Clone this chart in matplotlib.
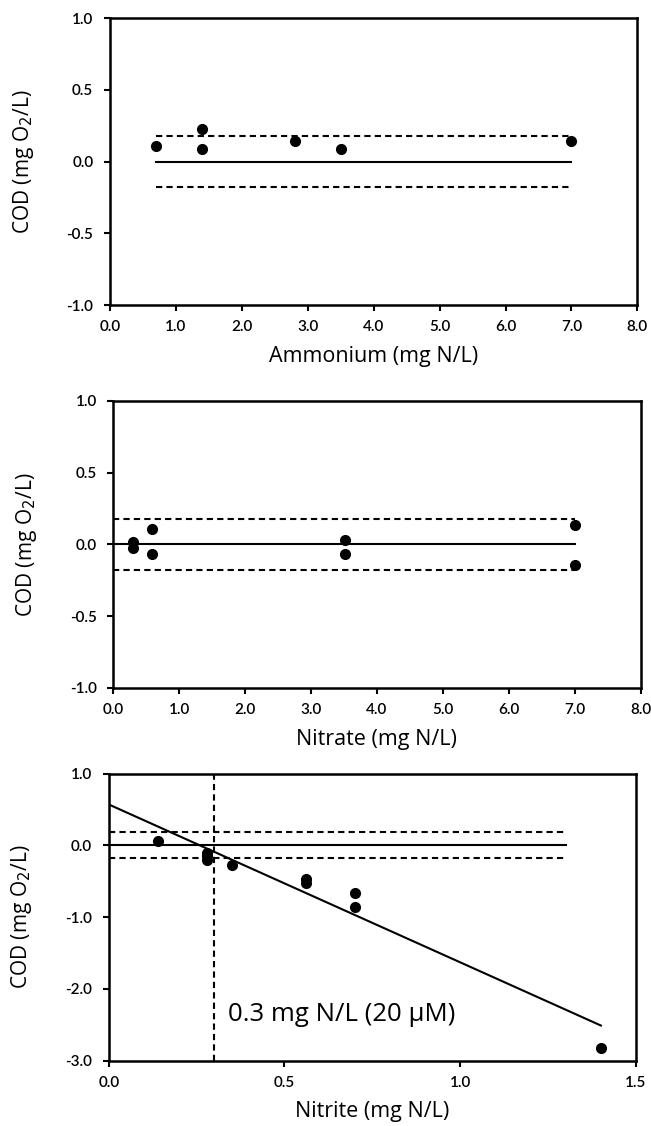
import numpy as np
import matplotlib
matplotlib.use("Agg")
import matplotlib.pyplot as plt
from matplotlib.ticker import FormatStrFormatter

plt.rcParams['font.family'] = ['Open Sans', 'DejaVu Sans']

# Ammonium panel
nh4_x = [0.7, 1.4, 1.4, 2.8, 3.5, 7.0]
nh4_y = [0.11, 0.225, 0.086, 0.14, 0.086, 0.14]

# Nitrate panel
no3_x = [0.3, 0.3, 0.58, 0.58, 3.51, 3.51, 7.0, 7.0]
no3_y = [0.015, -0.025, 0.11, -0.067, 0.032, -0.067, 0.135, -0.146]

# Nitrite panel
no2_x = [0.14, 0.28, 0.28, 0.28, 0.35, 0.56, 0.56, 0.70, 0.70, 1.40]
no2_y = [0.06, -0.10, -0.15, -0.21, -0.28, -0.47, -0.53, -0.66, -0.86, -2.83]
fit_intercept = 0.57
fit_slope = -2.2
fit_xmax = 1.40
limit_x = 0.3
band = 0.18

fig = plt.figure(figsize=(6.51, 11.26), dpi=100)

panels = [
    dict(rect=[0.169, 0.729, 0.810, 0.255], x=nh4_x, y=nh4_y, span=(0.7, 7.0),
         xlim=(0, 8), xticks=np.arange(0, 8.1, 1.0), ylim=(-1, 1),
         yticks=[-1.0, -0.5, 0.0, 0.5, 1.0], xlabel='Ammonium (mg N/L)'),
    dict(rect=[0.174, 0.389, 0.810, 0.255], x=no3_x, y=no3_y, span=(0.0, 7.0),
         xlim=(0, 8), xticks=np.arange(0, 8.1, 1.0), ylim=(-1, 1),
         yticks=[-1.0, -0.5, 0.0, 0.5, 1.0], xlabel='Nitrate (mg N/L)'),
    dict(rect=[0.167, 0.058, 0.810, 0.255], x=no2_x, y=no2_y, span=(0.0, 1.30),
         xlim=(0, 1.5), xticks=[0.0, 0.5, 1.0, 1.5], ylim=(-3, 1),
         yticks=[-3.0, -2.0, -1.0, 0.0, 1.0], xlabel='Nitrite (mg N/L)'),
]

axes = []
for p in panels:
    ax = fig.add_axes(p['rect'])
    x0, x1 = p['span']
    ax.plot([x0, x1], [0, 0], color='black', lw=1.5)
    ax.plot([x0, x1], [band, band], color='black', lw=1.5, ls=(0, (3, 2)))
    ax.plot([x0, x1], [-band, -band], color='black', lw=1.5, ls=(0, (3, 2)))
    ax.plot(p['x'], p['y'], 'o', color='black', ms=7, zorder=5)
    ax.set_xlim(*p['xlim'])
    ax.set_ylim(*p['ylim'])
    ax.set_xticks(p['xticks'])
    ax.set_yticks(p['yticks'])
    ax.xaxis.set_major_formatter(FormatStrFormatter('%.1f'))
    ax.yaxis.set_major_formatter(FormatStrFormatter('%.1f'))
    ax.tick_params(direction='out', length=4, width=1.5, labelsize=11,
                   top=False, right=False)
    ax.tick_params(axis='y', pad=8)
    ax.tick_params(axis='x', pad=7)
    for s in ax.spines.values():
        s.set_linewidth(1.8)
    for lab in ax.get_xticklabels() + ax.get_yticklabels():
        lab.set_family(['Lato', 'DejaVu Sans'])
        lab.set_weight('semibold')
    ax.set_xlabel(p['xlabel'], fontsize=15.5, va='center')
    ax.set_ylabel('COD (mg O$_2$/L)', fontsize=15, va='center')
    ax.xaxis.set_label_coords(0.5, -0.178)
    ax.yaxis.set_label_coords(-0.165, 0.5)
    axes.append(ax)

ax = axes[2]
xs = np.array([0.0, fit_xmax])
ax.plot(xs, fit_intercept + fit_slope * xs, color='black', lw=1.5)
ax.axvline(limit_x, color='black', lw=1.5, ls=(0, (3, 2)))
ax.text(0.34, -2.35, '0.3 mg N/L (20 \u03bcM)', fontsize=18.5, va='center', ha='left')

fig.savefig('out.png', dpi=100)
